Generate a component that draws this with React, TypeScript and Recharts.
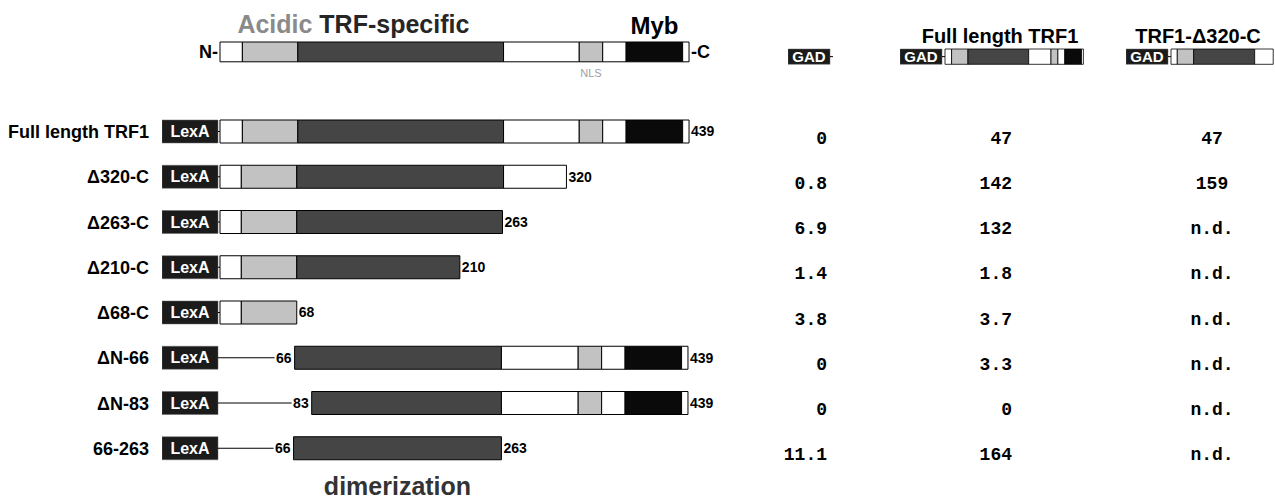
import React from 'react';
import { BarChart, Bar, XAxis, YAxis, LabelList } from 'recharts';

// constructs (rows, top to bottom)
const constructs = ['Full length TRF1', '\u0394320-C', '\u0394263-C', '\u0394210-C', '\u039468-C', '\u0394N-66', '\u0394N-83', '66-263'];
const startLabels = ['', '', '', '', '', '66', '83', '66'];
const endLabels = ['439', '320', '263', '210', '68', '439', '439', '263'];

// segment lengths as drawn, in residues
const linker = [0, 0, 0, 0, 0, 70, 86, 69];
const nTerm = [21, 20, 20, 20, 20, 0, 0, 0];
const acidic = [52, 52, 52, 52, 52, 0, 0, 0];
const trfSpecific = [193, 194, 193, 153, 0, 194, 178, 195];
const hinge = [71, 59, 0, 0, 0, 72, 72, 0];
const nls = [22, 0, 0, 0, 0, 22, 22, 0];
const preMyb = [22, 0, 0, 0, 0, 22, 22, 0];
const myb = [53, 0, 0, 0, 0, 53, 53, 0];
const cTerm = [6, 0, 0, 0, 0, 6, 6, 0];

// two-hybrid results per GAD fusion
const gadAlone = ['0', '0.8', '6.9', '1.4', '3.8', '0', '0', '11.1'];
const gadFullLength = ['47', '142', '132', '1.8', '3.7', '3.3', '0', '164'];
const gadDelta320 = ['47', '159', 'n.d.', 'n.d.', 'n.d.', 'n.d.', 'n.d.', 'n.d.'];

const SANS = "'Liberation Sans', Arial, Helvetica, sans-serif";
const MONO = "'Liberation Mono', 'Courier New', monospace";

const WHITE = '#ffffff';
const LIGHT = '#c2c2c2';
const DARK = '#454545';
const BLACK = '#0a0a0a';
const TAG = '#1b1b1b';

const SEGMENTS = [
  { key: 'nTerm', fill: WHITE, values: nTerm },
  { key: 'acidic', fill: LIGHT, values: acidic },
  { key: 'trfSpecific', fill: DARK, values: trfSpecific },
  { key: 'hinge', fill: WHITE, values: hinge },
  { key: 'nls', fill: LIGHT, values: nls },
  { key: 'preMyb', fill: WHITE, values: preMyb },
  { key: 'myb', fill: BLACK, values: myb },
  { key: 'cTerm', fill: WHITE, values: cTerm },
];

// drawing scale of the main panel
const PX = 1.066;
const LEXA_UNITS = 56 / PX;
const CONN_UNITS = 2 / PX;
const TAIL = 0.01;
const PLOT_W = 578;
const XMAX = PLOT_W / PX;

// drawing scale of the small GAD constructs
const MINI_PX = 0.3145;
const GAD_UNITS = 42 / MINI_PX;
const GAD_CONN_UNITS = 3 / MINI_PX;
const MINI_H = 17;

const segmentsOf = (i: number | null) => {
  const out: Record<string, number> = {};
  SEGMENTS.forEach((s) => {
    out[s.key] = i === null ? 0 : s.values[i];
  });
  return out;
};

const rows = constructs.map((name, i) => ({
  name,
  tag: 'LexA',
  lexA: LEXA_UNITS,
  conn: CONN_UNITS,
  linker: linker[i],
  ...segmentsOf(i),
  tail: TAIL,
  startLabel: startLabels[i],
  endLabel: endLabels[i],
  trfNote: i === constructs.length - 1 ? 'dimerization' : '',
}));

const topRow = [
  {
    name: 'TRF1',
    lexA: LEXA_UNITS,
    conn: CONN_UNITS,
    linker: 0,
    ...segmentsOf(0),
    tail: TAIL,
    nNote: 'N-',
    cNote: '-C',
    nlsNote: 'NLS',
    mybNote: 'Myb',
    titleNote: 'Acidic',
  },
];

const box = (p: any) => p.viewBox ?? p;

const ConnShape = (p: any) =>
  p.width > 0 ? (
    <line x1={p.x} x2={p.x + p.width} y1={p.y + p.height / 2} y2={p.y + p.height / 2} stroke="#000" strokeWidth={1} />
  ) : null;

const LinkerShape = (p: any) =>
  p.width > 0 ? (
    <line x1={p.x} x2={p.x + p.width - 20} y1={p.y + p.height / 2} y2={p.y + p.height / 2} stroke="#000" strokeWidth={1} />
  ) : null;

const NameTick = (p: any) => (
  <text x={p.x - 13} y={p.y} dy="0.36em" textAnchor="end" fontFamily={SANS} fontWeight="bold" fontSize={18} fill="#000">
    {p.payload.value}
  </text>
);

const ValueTick = (p: any) => (
  <g fontFamily={MONO} fontWeight="bold" fontSize={18} fill="#000">
    <text x={p.x + 87} y={p.y + 12} textAnchor="end">{gadAlone[p.index]}</text>
    <text x={p.x + 272} y={p.y + 12} textAnchor="end">{gadFullLength[p.index]}</text>
    <text x={p.x + 472} y={p.y + 12} textAnchor="middle">{gadDelta320[p.index]}</text>
  </g>
);

const DimerLabel = (p: any) => {
  if (!p.value) return null;
  const b = box(p);
  return (
    <text x={b.x + b.width / 2} y={b.y + b.height + 35} textAnchor="middle" fontFamily={SANS} fontWeight="bold" fontSize={25} fill="#333">
      {p.value}
    </text>
  );
};

const TitleLabel = (p: any) => {
  const b = box(p);
  return (
    <text x={b.x - 5} y={b.y - 9} fontFamily={SANS} fontWeight="bold" fontSize={25}>
      <tspan fill="#8a8a8a">{p.value}</tspan>
      <tspan fill="#262626"> TRF-specific</tspan>
    </text>
  );
};

const numberLabel = { fontFamily: SANS, fontWeight: 'bold', fontSize: 14, fill: '#000' } as const;

function MiniConstruct({ left, top, row }: { left: number; top: number; row: number | null }) {
  const datum = {
    name: 'gad',
    tag: 'GAD',
    gad: GAD_UNITS,
    conn: GAD_CONN_UNITS,
    ...segmentsOf(row),
  };
  const total = GAD_UNITS + GAD_CONN_UNITS + SEGMENTS.reduce((s, seg) => s + (datum as any)[seg.key], 0);
  const width = Math.ceil(total * MINI_PX) + 2;
  return (
    <div style={{ position: 'absolute', left, top }}>
      <BarChart layout="vertical" width={width} height={MINI_H} data={[datum]} margin={{ top: 0, right: 0, bottom: 0, left: 0 }} barSize={MINI_H}>
        <XAxis type="number" hide domain={[0, width / MINI_PX]} allowDataOverflow />
        <YAxis type="category" dataKey="name" hide />
        <Bar dataKey="gad" stackId="m" fill={TAG} stroke="#666" strokeWidth={0.5} isAnimationActive={false}>
          <LabelList dataKey="tag" position="center" fill="#fff" fontFamily={SANS} fontWeight="bold" fontSize={15} />
        </Bar>
        <Bar dataKey="conn" stackId="m" shape={ConnShape} isAnimationActive={false} />
        {SEGMENTS.map((s) => (
          <Bar key={s.key} dataKey={s.key} stackId="m" fill={s.fill} stroke="#000" strokeWidth={0.8} isAnimationActive={false} />
        ))}
      </BarChart>
    </div>
  );
}

export default function App() {
  return (
    <div style={{ position: 'absolute', left: 0, top: 0, width: 1275, height: 499, background: '#fff', overflow: 'hidden' }}>
      {/* domain map of TRF1 */}
      <div style={{ position: 'absolute', left: 0, top: 0 }}>
        <BarChart layout="vertical" width={1275} height={100} data={topRow} margin={{ top: 41, right: 1275 - 162 - PLOT_W, bottom: 37, left: 162 }} barSize={22}>
          <XAxis type="number" hide domain={[0, XMAX]} allowDataOverflow />
          <YAxis type="category" dataKey="name" hide />
          <Bar dataKey="lexA" stackId="t" fill="none" stroke="none" isAnimationActive={false} />
          <Bar dataKey="conn" stackId="t" fill="none" stroke="none" isAnimationActive={false} />
          {SEGMENTS.map((s) => (
            <Bar key={s.key} dataKey={s.key} stackId="t" fill={s.fill} stroke="#000" strokeWidth={1} isAnimationActive={false}>
              {s.key === 'nTerm' && <LabelList dataKey="nNote" position="left" offset={2} {...numberLabel} fontSize={18} />}
              {s.key === 'acidic' && <LabelList dataKey="titleNote" content={TitleLabel} />}
              {s.key === 'nls' && <LabelList dataKey="nlsNote" position="bottom" offset={7} fontFamily={SANS} fontSize={11} fill="#a0a0a0" />}
              {s.key === 'myb' && <LabelList dataKey="mybNote" position="top" offset={8} fontFamily={SANS} fontWeight="bold" fontSize={24} fill="#000" />}
            </Bar>
          ))}
          <Bar dataKey="tail" stackId="t" fill="none" stroke="none" isAnimationActive={false}>
            <LabelList dataKey="cNote" position="right" offset={2} {...numberLabel} fontSize={18} />
          </Bar>
        </BarChart>
      </div>

      {/* LexA fusions and interaction values */}
      <div style={{ position: 'absolute', left: 0, top: 0 }}>
        <BarChart layout="vertical" width={1275} height={499} data={rows} margin={{ top: 109, right: 0, bottom: 28, left: 0 }} barSize={23}>
          <XAxis type="number" hide domain={[0, XMAX]} allowDataOverflow />
          <YAxis yAxisId="names" type="category" dataKey="name" width={162} interval={0} axisLine={false} tickLine={false} tickSize={0} tickMargin={0} tick={NameTick} />
          <YAxis yAxisId="values" orientation="right" type="category" dataKey="name" width={1275 - 162 - PLOT_W} interval={0} axisLine={false} tickLine={false} tickSize={0} tickMargin={0} tick={ValueTick} />
          <Bar yAxisId="names" dataKey="lexA" stackId="c" fill={TAG} stroke="#666" strokeWidth={0.5} isAnimationActive={false}>
            <LabelList dataKey="tag" position="center" fill="#fff" fontFamily={SANS} fontWeight="bold" fontSize={16} />
          </Bar>
          <Bar yAxisId="names" dataKey="conn" stackId="c" shape={ConnShape} isAnimationActive={false} />
          <Bar yAxisId="names" dataKey="linker" stackId="c" shape={LinkerShape} isAnimationActive={false}>
            <LabelList dataKey="startLabel" position="insideRight" offset={3} {...numberLabel} />
          </Bar>
          {SEGMENTS.map((s) => (
            <Bar key={s.key} yAxisId="names" dataKey={s.key} stackId="c" fill={s.fill} stroke="#000" strokeWidth={1} isAnimationActive={false}>
              {s.key === 'trfSpecific' && <LabelList dataKey="trfNote" content={DimerLabel} />}
            </Bar>
          ))}
          <Bar yAxisId="names" dataKey="tail" stackId="c" fill="none" stroke="none" isAnimationActive={false}>
            <LabelList dataKey="endLabel" position="right" offset={2} {...numberLabel} />
          </Bar>
        </BarChart>
      </div>

      {/* GAD fusion column headers */}
      <svg width={1275} height={60} style={{ position: 'absolute', left: 0, top: 0 }}>
        <text x={1000} y={43} textAnchor="middle" fontFamily={SANS} fontWeight="bold" fontSize={20} fill="#000">
          Full length TRF1
        </text>
        <text x={1198} y={43} textAnchor="middle" fontFamily={SANS} fontWeight="bold" fontSize={20} fill="#000">
          TRF1-{'\u0394'}320-C
        </text>
      </svg>
      <MiniConstruct left={788} top={48} row={null} />
      <MiniConstruct left={900} top={48} row={0} />
      <MiniConstruct left={1126} top={48} row={1} />
    </div>
  );
}
